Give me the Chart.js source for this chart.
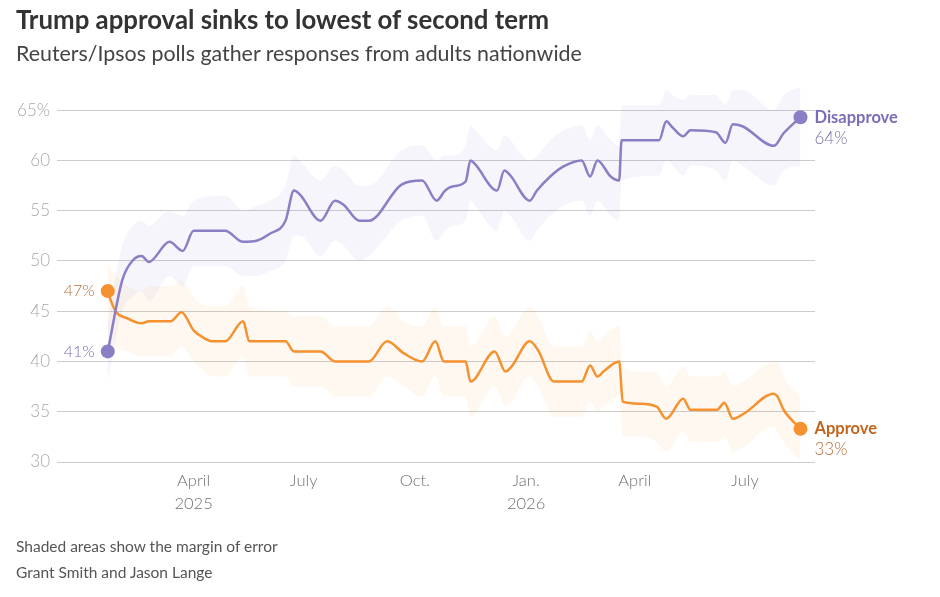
<!DOCTYPE html>
<html>
<head>
<meta charset="utf-8">
<title>Trump approval</title>
<script src="https://cdn.jsdelivr.net/npm/chart.js@4.4.0/dist/chart.umd.min.js"></script>
<style>
    body { margin: 0; background: #fff; font-family: Lato, "Open Sans", sans-serif; }
    .wrap { position: relative; width: 940px; height: 597px; overflow: hidden; }
    #myChart { position: absolute; left: 0; top: 0; }
    .title { position: absolute; left: 16px; top: 4px; margin: 0; font-size: 25.8px; font-weight: 700; color: #333; white-space: nowrap; }
    .subtitle { position: absolute; left: 16px; top: 40px; font-size: 21.4px; color: #444; white-space: nowrap; }
    .note { position: absolute; left: 16px; font-size: 15.5px; color: #555; white-space: nowrap; }
</style>
</head>
<body>
<div class="wrap">
    <canvas id="myChart" width="940" height="597"></canvas>
    <h1 class="title">Trump approval sinks to lowest of second term</h1>
    <div class="subtitle">Reuters/Ipsos polls gather responses from adults nationwide</div>
    <div class="note" style="top: 537px;">Shaded areas show the margin of error</div>
    <div class="note" style="top: 563px;">Grant Smith and Jason Lange</div>
</div>
<script>
// Disapprove series
const disapproveDates = [
    '2025-01-20', '2025-02-01', '2025-02-10', '2025-02-17', '2025-02-23', '2025-03-12', '2025-03-23',
    '2025-04-01', '2025-04-27', '2025-05-12', '2025-05-23', '2025-06-03', '2025-06-16', '2025-06-23',
    '2025-06-28', '2025-07-15', '2025-07-27', '2025-08-03', '2025-08-16', '2025-08-24', '2025-09-20',
    '2025-10-07', '2025-10-19', '2025-10-26', '2025-11-01', '2025-11-12', '2025-11-16', '2025-11-20',
    '2025-12-08', '2025-12-14', '2025-12-19', '2026-01-04', '2026-01-10', '2026-01-21', '2026-02-01',
    '2026-02-16', '2026-02-23', '2026-03-01', '2026-03-12', '2026-03-19', '2026-03-21', '2026-04-21',
    '2026-04-27', '2026-05-02', '2026-05-11', '2026-05-17', '2026-06-07', '2026-06-15', '2026-06-21',
    '2026-06-29', '2026-07-25', '2026-08-02', '2026-08-16'
];
const disapproveValues = [
    41, 48.1, 50.1, 50.5, 49.9, 51.9, 51,
    53, 53, 51.9, 52, 52.7, 54, 57,
    56.6, 54, 56, 55.6, 54, 54, 57.6,
    58, 56, 57, 57.4, 57.9, 60, 59.6,
    57, 59, 58.5, 56, 57, 58.4, 59.4,
    60, 58.4, 60, 58.4, 58, 62, 62,
    63.9, 63.3, 62.4, 63, 62.8, 61.75, 63.6,
    63.4, 61.45, 62.7, 64.3
];
const disapproveHigh = [
    44, 51.5, 53.5, 54, 53.5, 55, 54.5,
    56, 56.5, 55, 55.5, 56, 57.5, 60.5,
    60, 58, 59.5, 59, 57.5, 57.5, 61,
    61.5, 60, 60.5, 60.5, 61.5, 63.5, 63,
    61, 62.5, 62, 60, 60.5, 62, 63,
    63.5, 62, 63.5, 62, 61.5, 65.5, 65.5,
    67, 66.5, 66, 66.5, 66.5, 65.5, 67,
    67, 65, 66.5, 67.3
];
const disapproveLow = [
    38, 45, 46.5, 47, 46, 48.5, 47.5,
    49.5, 49.5, 48.5, 48.5, 49, 50, 52.5,
    52.5, 50.5, 52, 51.5, 50, 50.5, 54,
    54.5, 52, 53, 53.5, 54, 56, 55.5,
    53, 55, 54.5, 52, 53, 54.5, 55.5,
    56, 54.5, 56, 54.5, 54, 58, 58.5,
    60, 59.5, 58.5, 59.5, 59, 58, 60,
    59.5, 57.5, 59, 59.5
];

// Approve series
const approveDates = [
    '2025-01-20', '2025-01-23', '2025-01-27', '2025-02-05', '2025-02-17', '2025-02-23', '2025-03-13',
    '2025-03-22', '2025-04-01', '2025-04-10', '2025-04-17', '2025-04-27', '2025-05-12', '2025-05-17',
    '2025-06-16', '2025-06-23', '2025-07-15', '2025-07-27', '2025-08-24', '2025-09-08', '2025-09-22',
    '2025-10-07', '2025-10-18', '2025-10-25', '2025-11-12', '2025-11-16', '2025-12-06', '2025-12-15',
    '2025-12-20', '2026-01-04', '2026-01-11', '2026-01-24', '2026-02-16', '2026-02-23', '2026-03-01',
    '2026-03-06', '2026-03-19', '2026-03-22', '2026-04-05', '2026-04-19', '2026-04-27', '2026-05-11',
    '2026-05-17', '2026-06-08', '2026-06-14', '2026-06-21', '2026-06-30', '2026-07-25', '2026-07-28',
    '2026-08-02', '2026-08-16'
];
const approveValues = [
    47, 45.9, 44.9, 44.3, 43.8, 44, 44,
    44.9, 43.1, 42.3, 42, 42, 44, 42,
    42, 41, 41, 40, 40, 42, 40.8,
    40, 42, 40, 40, 38, 41, 39,
    39.5, 42, 41.1, 38, 38, 39.6, 38.5,
    39, 40, 36, 35.8, 35.5, 34.3, 36.3,
    35.2, 35.2, 35.9, 34.3, 34.8, 36.8, 36.5,
    35.2, 33.3
];
const approveHigh = [
    50, 49, 48.5, 47.5, 47, 47.5, 47.5,
    48, 46.5, 45.5, 45.5, 45.5, 47.5, 45.5,
    45, 44.5, 44.5, 43.5, 43.5, 45.5, 44,
    43.5, 45.5, 43.5, 43.5, 41.5, 44.5, 42.5,
    43, 45.5, 44.5, 41.5, 41.5, 43, 42,
    42.5, 43.5, 39.5, 39, 39, 37.5, 39.5,
    38.5, 38.5, 39, 37.5, 38, 40, 40,
    38.5, 36.5
];
const approveLow = [
    43, 42.5, 41.5, 41, 40.5, 40.5, 40.5,
    41.5, 40, 39, 38.5, 38.5, 40.5, 38.5,
    38.5, 37.5, 37.5, 36.5, 36.5, 38.5, 37.5,
    36.5, 38.5, 36.5, 36.5, 34.5, 37.5, 35.5,
    36, 38.5, 37.5, 34.5, 34.5, 36, 35,
    35.5, 36.5, 32.5, 32.5, 32, 31, 33,
    32, 32, 32.5, 31, 31.5, 33.5, 33,
    32, 30
];

// X axis ticks
const tickDates = ['2025-04-01', '2025-07-01', '2025-10-01', '2026-01-01', '2026-04-01', '2026-07-01'];
const tickLabels = [['April', '2025'], ['July'], ['Oct.'], ['Jan.', '2026'], ['April'], ['July']];
const yTicks = [30, 35, 40, 45, 50, 55, 60, 65];
const seriesNames = ['Disapprove', 'Approve'];

const PURPLE = '#8b7ec4';
const ORANGE = '#f5912e';
const dayZero = Date.parse('2025-01-01');

// date string -> days since 2025-01-01
function toDay(s) {
    return (Date.parse(s) - dayZero) / 864e5;
}

function toPoints(dates, values) {
    return dates.map((d, i) => ({ x: toDay(d), y: values[i] }));
}

// Marker only at both ends
function endRadius(ctx) {
    const n = ctx.dataset.data.length;
    return (ctx.dataIndex === 0 || ctx.dataIndex === n - 1) ? 7 : 0;
}

function lineSet(dates, values, color) {
    return {
        data: toPoints(dates, values),
        borderColor: color,
        backgroundColor: color,
        borderWidth: 2.5,
        pointRadius: endRadius,
        pointBorderWidth: 0,
        cubicInterpolationMode: 'monotone',
        fill: false,
        order: 0,
    };
}

function bandSet(dates, values, color, fill) {
    return {
        data: toPoints(dates, values),
        borderWidth: 0,
        borderColor: 'transparent',
        backgroundColor: color,
        pointRadius: 0,
        cubicInterpolationMode: 'monotone',
        fill: fill,
        order: 1,
    };
}

// Labels at line ends
const endLabels = {
    id: 'endLabels',
    afterDatasetsDraw(chart) {
        const ctx = chart.ctx;
        const styles = [
            { name: '#7b6cb8', value: '#7a72a6' },
            { name: '#c0661f', value: '#b8703c' },
        ];
        [0, 1].forEach((i) => {
            const pts = chart.getDatasetMeta(i).data;
            const vals = chart.data.datasets[i].data;
            const first = pts[0];
            const last = pts[pts.length - 1];
            ctx.save();
            ctx.textBaseline = 'middle';
            ctx.textAlign = 'right';
            ctx.font = '300 16px Lato';
            ctx.fillStyle = styles[i].value;
            ctx.fillText(`${Math.round(vals[0].y)}%`, first.x - 13, first.y);
            ctx.textAlign = 'left';
            ctx.font = 'bold 16.5px Lato';
            ctx.fillStyle = styles[i].name;
            ctx.fillText(seriesNames[i], last.x + 14, last.y);
            ctx.font = '300 17px Lato';
            ctx.fillStyle = styles[i].value;
            ctx.fillText(`${Math.round(vals[vals.length - 1].y)}%`, last.x + 14, last.y + 21);
            ctx.restore();
        });
    }
};

function renderChart() {
    const ctx = document.getElementById('myChart').getContext('2d');
    const myChart = new Chart(ctx, {
        type: 'line',
        data: {
            datasets: [
                lineSet(disapproveDates, disapproveValues, PURPLE),
                lineSet(approveDates, approveValues, ORANGE),
                bandSet(disapproveDates, disapproveHigh, 'rgba(139, 126, 196, 0.075)', '+1'),
                bandSet(disapproveDates, disapproveLow, 'rgba(139, 126, 196, 0.075)', false),
                bandSet(approveDates, approveHigh, 'rgba(245, 145, 46, 0.065)', '+1'),
                bandSet(approveDates, approveLow, 'rgba(245, 145, 46, 0.065)', false),
            ]
        },
        options: {
            responsive: false,
            animation: false,
            layout: {
                padding: { top: 80, right: 125, bottom: 85, left: 0 },
            },
            plugins: {
                legend: { display: false },
                tooltip: { enabled: false },
            },
            scales: {
                x: {
                    type: 'linear',
                    min: toDay('2024-12-09'),
                    max: toDay('2026-08-28'),
                    grid: { display: false },
                    border: { display: false },
                    afterBuildTicks: (scale) => {
                        scale.ticks = tickDates.map((d) => ({ value: toDay(d) }));
                    },
                    afterFit: (scale) => { scale.height = 50; },
                    ticks: {
                        autoSkip: false,
                        maxRotation: 0,
                        padding: 0,
                        color: '#707070',
                        font: { family: 'Lato', size: 16.5, weight: 300, lineHeight: 1.35 },
                        callback: (value, index) => tickLabels[index],
                    },
                },
                y: {
                    min: 30,
                    max: 68,
                    grid: { color: '#cccccc', lineWidth: 1, drawTicks: false },
                    border: { display: false },
                    afterBuildTicks: (scale) => {
                        scale.ticks = yTicks.map((v) => ({ value: v }));
                    },
                    afterFit: (scale) => { scale.width = 57; },
                    ticks: {
                        padding: 7,
                        color: '#a8a8a8',
                        font: { family: 'Lato', size: 17, weight: 300 },
                        callback: (value) => value === 65 ? '65%' : value,
                    },
                },
            },
        },
        plugins: [endLabels],
    });
}

document.addEventListener('DOMContentLoaded', () => {
    renderChart();
});
</script>
</body>
</html>
